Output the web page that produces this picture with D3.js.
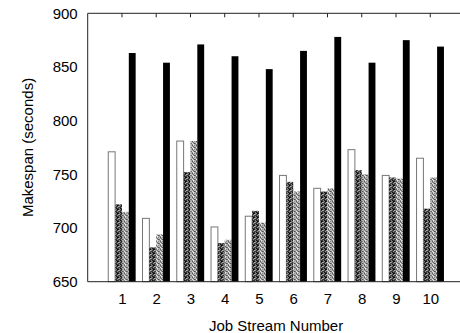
<!DOCTYPE html>
<html>
<head>
<meta charset="utf-8">
<script src="https://cdn.jsdelivr.net/npm/d3@7"></script>
<style>
  body { margin: 0; background: #fff; }
  text { font-family: "Liberation Sans", Arial, sans-serif; }
</style>
</head>
<body>
<div id="chart"></div>
<script>
// job streams and the four makespan series (seconds)
var streams = [1, 2, 3, 4, 5, 6, 7, 8, 9, 10];
var seriesWhite = [771, 709, 781, 701, 711, 749, 737, 773, 749, 765];
var seriesDense = [722, 682, 752, 686, 716, 743, 734, 754, 747, 718];
var seriesDots  = [715, 694, 781, 689, 705, 734, 737, 750, 746, 747];
var seriesBlack = [863, 854, 871, 860, 848, 865, 878, 854, 875, 869];
var yTicks = [650, 700, 750, 800, 850, 900];

var seriesList = [seriesWhite, seriesDense, seriesDots, seriesBlack];
var fills = ["#ffffff", "url(#dense)", "url(#dots)", "#000000"];

var svgWidth = 460, svgHeight = 333;
var margin = {top: 13.3, right: -4.5, bottom: 51.3, left: 87.7};
var chartWidth = svgWidth - margin.left - margin.right;
var chartHeight = svgHeight - margin.top - margin.bottom;

var svg = d3.select("#chart").append("svg")
  .attr("width", svgWidth)
  .attr("height", svgHeight);

// fill patterns
var defs = svg.append("defs");
var dense = defs.append("pattern")
  .attr("id", "dense")
  .attr("patternUnits", "userSpaceOnUse")
  .attr("width", 4).attr("height", 4);
dense.append("rect").attr("width", 4).attr("height", 4).attr("fill", "#000");
[[0, 0], [2, 1], [1, 2], [3, 3], [3, 1]].forEach(function(p) {
  dense.append("rect").attr("x", p[0]).attr("y", p[1]).attr("width", 1).attr("height", 1).attr("fill", "#fff");
});

var dots = defs.append("pattern")
  .attr("id", "dots")
  .attr("patternUnits", "userSpaceOnUse")
  .attr("width", 4).attr("height", 4);
dots.append("rect").attr("width", 4).attr("height", 4).attr("fill", "#fff");
[[0, 0], [2, 0], [1, 1], [3, 2], [0, 3], [2, 2]].forEach(function(p) {
  dots.append("rect").attr("x", p[0]).attr("y", p[1]).attr("width", 1).attr("height", 1).attr("fill", "#111");
});
dots.append("rect").attr("x", 3).attr("y", 1).attr("width", 1).attr("height", 1).attr("fill", "#999");

var chartGroup = svg.append("g")
  .attr("transform", `translate(${margin.left}, ${margin.top})`);

var xScale = d3.scaleLinear()
  .domain([0, 11])
  .range([0, chartWidth]);

var yScale = d3.scaleLinear()
  .domain([650, 900])
  .range([chartHeight, 0]);

var barW = 0.2;

seriesList.forEach(function(values, si) {
  chartGroup.selectAll(".bar" + si)
    .data(values)
    .enter()
    .append("rect")
    .attr("x", (d, i) => xScale(streams[i] - 2 * barW + si * barW))
    .attr("y", d => yScale(d))
    .attr("width", xScale(barW) - xScale(0))
    .attr("height", d => chartHeight - yScale(d))
    .attr("fill", fills[si])
    .attr("stroke", si == 0 ? "#777" : "none")
    .attr("stroke-width", 1);
});

// frame: left, top, bottom
chartGroup.append("line")
  .attr("x1", 0).attr("x2", 0).attr("y1", 0).attr("y2", chartHeight)
  .attr("stroke", "#222");
chartGroup.append("line")
  .attr("x1", 0).attr("x2", chartWidth).attr("y1", 0).attr("y2", 0)
  .attr("stroke", "#222");
chartGroup.append("line")
  .attr("x1", 0).attr("x2", chartWidth).attr("y1", chartHeight).attr("y2", chartHeight)
  .attr("stroke", "#222");

// mirrored ticks on top
chartGroup.selectAll(".topTick")
  .data(streams)
  .enter()
  .append("line")
  .attr("x1", d => xScale(d)).attr("x2", d => xScale(d))
  .attr("y1", 0).attr("y2", 4)
  .attr("stroke", "#222");

var xAxis = d3.axisBottom(xScale).tickValues(streams).tickSize(0).tickPadding(12);
var yAxis = d3.axisLeft(yScale).tickValues(yTicks).tickSize(0).tickPadding(10);

var xg = chartGroup.append("g")
  .attr("transform", `translate(0, ${chartHeight})`)
  .call(xAxis);
var yg = chartGroup.append("g").call(yAxis);

[xg, yg].forEach(function(g) {
  g.select(".domain").remove();
  g.selectAll("text")
    .attr("font-size", 15)
    .attr("fill", "#000")
    .style("font-family", "'Liberation Sans', Arial, sans-serif");
});

svg.append("text")
  .attr("x", margin.left + xScale(5.5))
  .attr("y", 331)
  .attr("text-anchor", "middle")
  .attr("font-size", 15)
  .text("Job Stream Number");

svg.append("text")
  .attr("transform", `translate(33, ${margin.top + chartHeight / 2}) rotate(-90)`)
  .attr("text-anchor", "middle")
  .attr("font-size", 15)
  .text("Makespan (seconds)");
</script>
</body>
</html>
